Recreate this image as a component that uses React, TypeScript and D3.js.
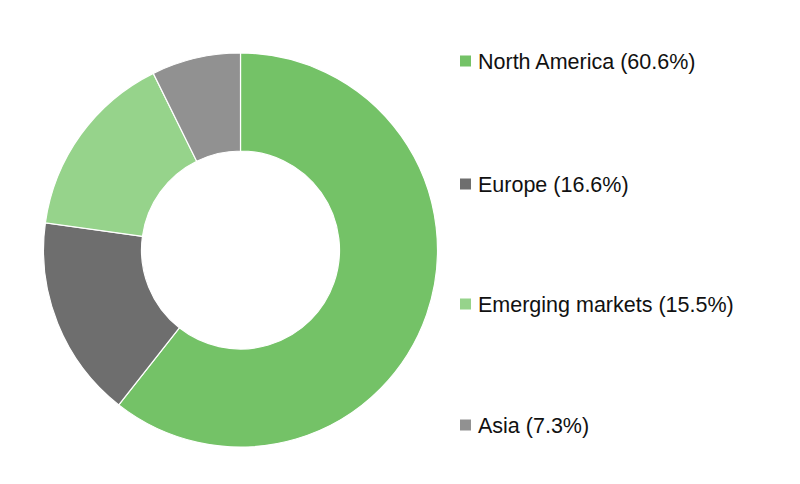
import React from "react";
import * as d3 from "d3";

const categories = ["North America", "Europe", "Emerging markets", "Asia"];
const values = [60.6, 16.6, 15.5, 7.3];
const colors = ["#74c267", "#6e6e6e", "#96d38b", "#919191"];
const legendY = [61, 184, 304, 425];

export default function App() {
  const width = 800;
  const height = 484;
  const cx = 240.5;
  const cy = 250;
  const outerR = 197;
  const innerR = 99;

  const data = categories.map((c, i) => ({ name: c, value: values[i], color: colors[i] }));
  const pie = d3.pie<any>().value((d) => d.value).sort(null);
  const arcs = pie(data);
  const arcGen = d3.arc<any>().innerRadius(innerR).outerRadius(outerR);

  return (
    <div style={{ margin: -8 }}>
      <svg width={width} height={height} style={{ display: "block", background: "#fff" }}>
        <g transform={`translate(${cx},${cy})`}>
          {arcs.map((a, i) => (
            <path key={i} d={arcGen(a) as string} fill={a.data.color} stroke="#fff" strokeWidth={1.2} />
          ))}
        </g>
        {data.map((d, i) => (
          <g key={i} transform={`translate(460,${legendY[i]})`}>
            <rect x={0} y={-5.5} width={11} height={11} fill={d.color} />
            <text
              x={18}
              y={0}
              dy="0.36em"
              fontFamily="'Liberation Sans', Arial, sans-serif"
              fontSize={21.5}
              fill="#111"
            >
              {`${d.name} (${d.value.toFixed(1)}%)`}
            </text>
          </g>
        ))}
      </svg>
    </div>
  );
}
